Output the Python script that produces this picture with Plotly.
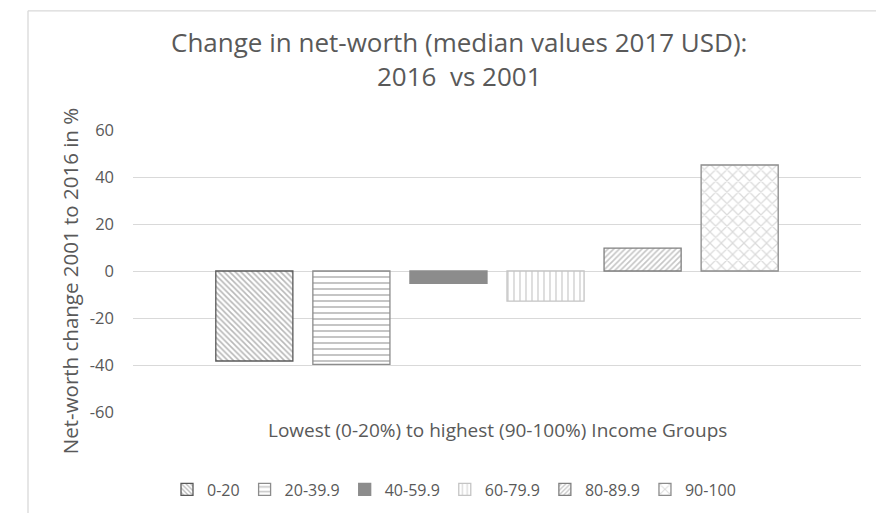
import plotly.graph_objects as go

# ---- data ----
category = ["Income Groups"]
group_names = ["0-20", "20-39.9", "40-59.9", "60-79.9", "80-89.9", "90-100"]
net_worth_change = [-38.3, -39.7, -5.3, -12.8, 9.7, 45.1]
y_ticks = [-60, -40, -20, 0, 20, 40, 60]
y_tick_labels = ["-60", "-40", "-20", "0", "20", "40", "60"]

title_text = "Change in net-worth (median values 2017 USD):<br>2016  vs 2001"
y_title = "Net-worth change 2001 to 2016 in %"
x_title = "Lowest (0-20%) to highest (90-100%) Income Groups"

# ---- styles ----
styles = [
    dict(color="white", line="#595959", shape="\\", fg="#6f6f6f", size=4, sol=0.4),
    dict(color="white", line="#8c8c8c", shape="-", fg="#8c8c8c", size=6, sol=0.33),
    dict(color="#8c8c8c", line="#8c8c8c", shape="", fg=None, size=None, sol=None),
    dict(color="white", line="#c4c4c4", shape="|", fg="#bdbdbd", size=6, sol=0.33),
    dict(color="white", line="#7f7f7f", shape="/", fg="#8c8c8c", size=4, sol=0.4),
    dict(color="white", line="#8c8c8c", shape="x", fg="#b5b5b5", size=8, sol=0.28),
]

FONT = "Open Sans"
TXT = "#595959"

fig = go.Figure()
for name, val, st in zip(group_names, net_worth_change, styles):
    marker = dict(color=st["color"], line=dict(color=st["line"], width=1.3))
    if st["shape"]:
        marker["pattern"] = dict(shape=st["shape"], fgcolor=st["fg"], bgcolor="white",
                                 size=st["size"], solidity=st["sol"], fillmode="overlay")
    fig.add_trace(go.Bar(x=category, y=[val], name=name, marker=marker))

W, H = 884, 513
OFF = 8  # page body margin
L, R, T, B = 133 - OFF, 861 - OFF, 130 - OFF, 411.7 - OFF


def px(x):
    return (x - OFF - L) / (R - L)


def py(y):
    return (B - (y - OFF)) / (B - T)


fig.update_layout(
    width=W, height=H,
    margin=dict(l=L, r=W - R, t=T, b=H - B, pad=0),
    paper_bgcolor="white", plot_bgcolor="white",
    barmode="group", bargap=0.2, bargroupgap=0.206,
    font=dict(family=FONT, color=TXT, size=17),
    showlegend=True,
    legend=dict(orientation="h", x=px(454), xanchor="center", y=py(489), yanchor="middle",
                font=dict(family=FONT, size=16, color=TXT), itemwidth=30,
                traceorder="normal", bgcolor="rgba(0,0,0,0)"),
    xaxis=dict(showticklabels=False, showgrid=False, zeroline=False, showline=False,
               range=[-0.5, 0.5], ticks=""),
    yaxis=dict(range=[-60, 60], tickvals=y_ticks, ticktext=y_tick_labels,
               showgrid=True, gridcolor="#d9d9d9",
               gridwidth=1, zeroline=True, zerolinecolor="#d9d9d9", zerolinewidth=1,
               showline=False, ticks="", ticklabelstandoff=18,
               tickfont=dict(family=FONT, size=16.5, color=TXT)),
    annotations=[
        dict(text=title_text, x=px(459), y=py(59), xref="paper", yref="paper",
             showarrow=False, xanchor="center", yanchor="middle",
             font=dict(family=FONT, size=26, color=TXT)),
        dict(text=y_title, x=px(70), y=py(281), xref="paper", yref="paper",
             showarrow=False, xanchor="center", yanchor="middle", textangle=-90,
             font=dict(family=FONT, size=20.5, color=TXT)),
        dict(text=x_title, x=px(497), y=py(430), xref="paper", yref="paper",
             showarrow=False, xanchor="center", yanchor="middle",
             font=dict(family=FONT, size=19, color=TXT)),
    ],
    shapes=[
        dict(type="line", xref="paper", yref="paper", x0=px(28), x1=px(28), y0=py(11), y1=py(540),
             line=dict(color="#d9d9d9", width=1.3)),
        dict(type="line", xref="paper", yref="paper", x0=px(28), x1=px(900), y0=py(11), y1=py(11),
             line=dict(color="#d9d9d9", width=1.3)),
    ],
)

fig.write_html("out.html")
